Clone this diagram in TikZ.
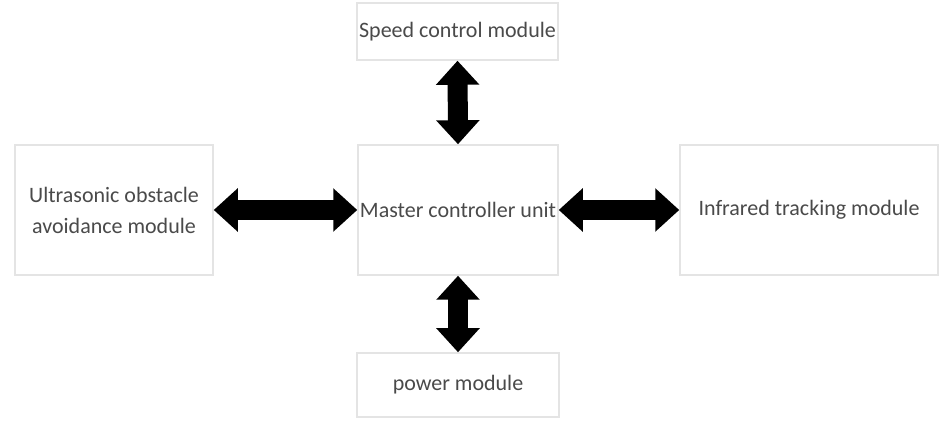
\documentclass[tikz,border=0pt]{standalone}
\usepackage{fontspec}
\setmainfont{Carlito}
\usetikzlibrary{arrows.meta}
\definecolor{boxline}{HTML}{E4E4E4}
\definecolor{txt}{HTML}{4A4A4A}
\tikzset{
  modbox/.style={draw=boxline, line width=1.5pt, fill=white, text=txt, align=center,
    font=\fontsize{22}{31}\selectfont, inner sep=0pt},
  dblarrow/.style={line width=20pt, black,
    {Triangle[width=42pt,length=24pt]}-{Triangle[width=42pt,length=24pt]}, shorten <=0pt, shorten >=0pt}
}
\begin{document}
\begin{tikzpicture}[x=1pt,y=-1pt]
\useasboundingbox (0,0) rectangle (940,427);
\node[modbox, minimum width=201pt, minimum height=57pt] (speed) at (457.5,31.5) {Speed control module};
\node[modbox, minimum width=200pt, minimum height=130pt] (master) at (458,210) {Master controller unit};
\node[modbox, minimum width=198pt, minimum height=130pt] (ultra) at (114,210) {Ultrasonic obstacle\\avoidance module};
\node[modbox, minimum width=258pt, minimum height=130pt] (infra) at (809,210) {Infrared tracking module};
\node[modbox, minimum width=202pt, minimum height=64pt] (power) at (458,385) {power module};
\draw[dblarrow] (speed.south) -- (master.north);
\draw[dblarrow] (master.south) -- (power.north);
\draw[dblarrow] (ultra.east) -- (master.west);
\draw[dblarrow] (master.east) -- (infra.west);
\end{tikzpicture}
\end{document}
